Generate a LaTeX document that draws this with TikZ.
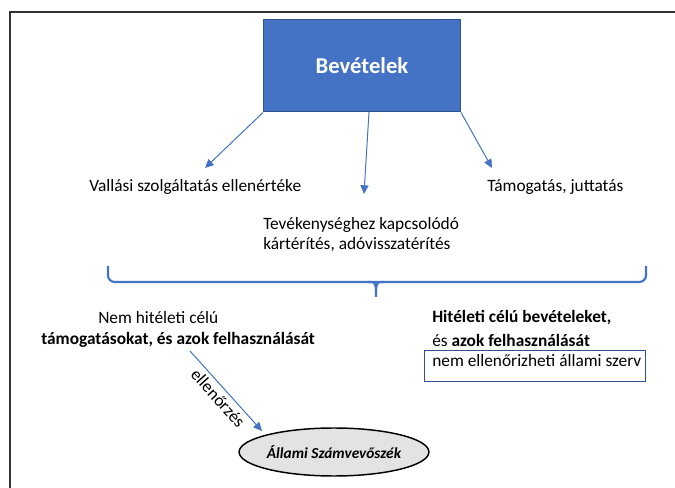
\documentclass[tikz,border=0pt]{standalone}
\usepackage{fontspec}
\setmainfont{Carlito}
\usetikzlibrary{arrows.meta,shapes.geometric}
\definecolor{oblue}{HTML}{4472C4}
\definecolor{odark}{HTML}{2F528F}
\definecolor{egray}{HTML}{E3E3E3}
\tikzset{
  txt/.style={inner sep=0pt, anchor=west, font=\fontsize{13}{15}\selectfont},
  arr/.style={draw=oblue, line width=0.75pt, -{Triangle[width=6pt,length=6.5pt]}},
  bevbox/.style={fill=oblue, draw=odark, line width=0.75pt, minimum width=147.75pt, minimum height=69pt, text=white, font=\bfseries\fontsize{17}{20}\selectfont},
  bracepath/.style={draw=oblue, line width=1.6pt},
  framebox/.style={draw=odark, line width=1.1pt, inner sep=0pt, anchor=north west, minimum width=165.75pt, minimum height=23.25pt},
  ell/.style={ellipse, draw=black, line width=1.1pt, fill=egray, minimum width=127.5pt, minimum height=36pt, inner sep=0pt, font=\bfseries\itshape\fontsize{11.5}{14}\selectfont}
}
\begin{document}
\begin{tikzpicture}[x=0.75pt,y=-0.75pt]
\useasboundingbox (0,0) rectangle (675,488);
\draw[line width=1.5pt, draw=black!80] (675,12) -- (10,12) -- (10,488);

\node[bevbox] (bev) at (362,66) {Bevételek};

\node[txt] (vall) at (89,187) {Vallási szolgáltatás ellenértéke};
\node[txt] (tam) at (487,187) {Támogatás, juttatás};
\node[txt, align=left] (tev) at (263,235) {Tevékenységhez kapcsolódó\\kártérítés, adóvisszatérítés};

\coordinate (m0) at (369,112);
\coordinate (t1) at (205,168);
\coordinate (t2) at (364,194);
\coordinate (t3) at (492,168);
\draw[arr] (bev.south west) -- (t1);
\draw[arr] (m0) -- (t2);
\draw[arr] (bev.south east) -- (t3);

% brace
\draw[bracepath, rounded corners=5pt] (108,266) -- (108,282) -- (646,282) -- (646,266);
\draw[bracepath] (368,282) .. controls (375,282) .. (376,290) -- (376,297);
\draw[bracepath] (384,282) .. controls (377,282) .. (376,290);

\node[txt] (nem) at (98,318) {Nem hitéleti célú};
\node[txt] (tamf) at (41,340) {\textbf{támogatásokat, és azok felhasználását}};

\node[txt] (hit) at (432,318) {\textbf{Hitéleti célú bevételeket,}};
\node[txt] (es) at (432,340) {és \textbf{azok felhasználását}};
\node[framebox] (nbox) at (424,350) {};
\node[txt] (nemell) at (432,361) {nem ellenőrizheti állami szerv};

\node[ell] (asz) at (334,452) {Állami Számvevőszék};
\coordinate (e0) at (190,351);
\coordinate (e1) at (262,431);
\draw[arr] (e0) -- node[sloped, below, inner sep=3pt, font=\fontsize{13}{15}\selectfont] {ellenőrzés} (e1);
\end{tikzpicture}
\end{document}
